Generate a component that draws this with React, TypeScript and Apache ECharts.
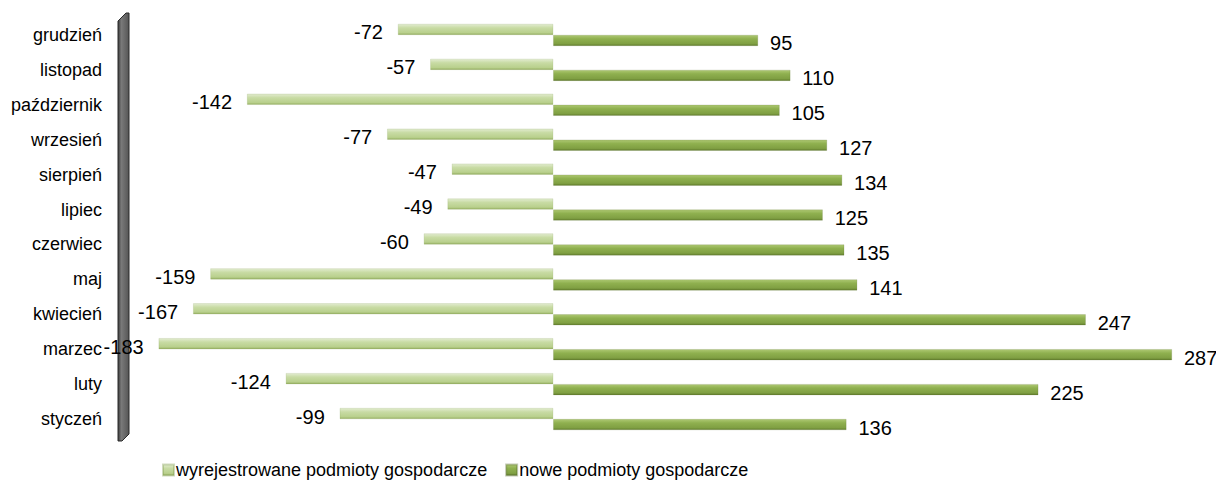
import React, { useEffect, useRef } from "react";
import * as echarts from "echarts";

const months = [
  "styczeń", "luty", "marzec", "kwiecień", "maj", "czerwiec",
  "lipiec", "sierpień", "wrzesień", "październik", "listopad", "grudzień",
];
const removed = [-99, -124, -183, -167, -159, -60, -49, -47, -77, -142, -57, -72];
const added = [136, 225, 287, 247, 141, 135, 125, 134, 127, 105, 110, 95];
const seriesNames = ["wyrejestrowane podmioty gospodarcze", "nowe podmioty gospodarcze"];

export default function App() {
  const ref = useRef<HTMLDivElement>(null);
  useEffect(() => {
    if (!ref.current) return;
    const chart = echarts.init(ref.current, null, { renderer: "svg" });
    const font = "'Liberation Sans', Arial, sans-serif";
    const lightGrad = new echarts.graphic.LinearGradient(0, 0, 0, 1, [
      { offset: 0, color: "#e2ecd0" },
      { offset: 0.35, color: "#c8dba4" },
      { offset: 0.8, color: "#b9d08d" },
      { offset: 1, color: "#97b064" },
    ]);
    const darkGrad = new echarts.graphic.LinearGradient(0, 0, 0, 1, [
      { offset: 0, color: "#aec873" },
      { offset: 0.35, color: "#8fb04f" },
      { offset: 0.8, color: "#80a043" },
      { offset: 1, color: "#637f2e" },
    ]);
    const wallGrad = new echarts.graphic.LinearGradient(0, 0, 1, 0, [
      { offset: 0, color: "#3a3a3a" },
      { offset: 0.3, color: "#7a7a7a" },
      { offset: 1, color: "#555555" },
    ]);
    chart.setOption({
      animation: false,
      grid: { left: 122, right: 16, top: 17.5, bottom: 55.5, containLabel: false },
      legend: {
        data: seriesNames,
        left: 157,
        top: 456,
        itemWidth: 11,
        itemHeight: 11,
        itemGap: 18,
        icon: "rect",
        textStyle: { fontFamily: font, fontSize: 18, color: "#000", padding: [0, 0, 0, -3] },
      },
      xAxis: {
        type: "value",
        min: -200,
        max: 300,
        interval: 50,
        show: false,
        splitLine: { show: false },
      },
      yAxis: {
        type: "category",
        data: months,
        axisTick: { show: false },
        axisLine: { show: false },
        axisLabel: {
          fontFamily: font,
          fontSize: 18,
          color: "#000",
          margin: 20,
          padding: [8, 0, 0, 0],
        },
      },
      graphic: [
        {
          type: "polygon",
          shape: {
            points: [[118, 21], [126, 13], [129, 13], [129, 434], [122, 441], [118, 441]],
          },
          style: { fill: wallGrad, stroke: "#2a2a2a", lineWidth: 1 },
          z: 0,
        },
      ],
      series: [
        {
          name: seriesNames[0],
          type: "bar",
          data: removed,
          barWidth: 11,
          barGap: "0%",
          z: 2,
          itemStyle: { color: lightGrad, borderColor: "rgba(120,150,70,0.35)", borderWidth: 0.5 },
          label: {
            show: true,
            position: "left",
            distance: 15,
            offset: [0, 3],
            fontFamily: font,
            fontSize: 20,
            color: "#000",
          },
        },
        {
          name: seriesNames[1],
          type: "bar",
          data: added,
          barWidth: 11,
          barGap: "0%",
          z: 2,
          itemStyle: { color: darkGrad, borderColor: "rgba(80,100,40,0.35)", borderWidth: 0.5 },
          label: {
            show: true,
            position: "right",
            distance: 12,
            offset: [0, 3],
            fontFamily: font,
            fontSize: 20,
            color: "#000",
          },
        },
      ],
    });
    return () => chart.dispose();
  }, []);
  return (
    <div
      ref={ref}
      style={{ position: "absolute", left: 0, top: 0, width: 1216, height: 492, background: "#fff" }}
    />
  );
}
